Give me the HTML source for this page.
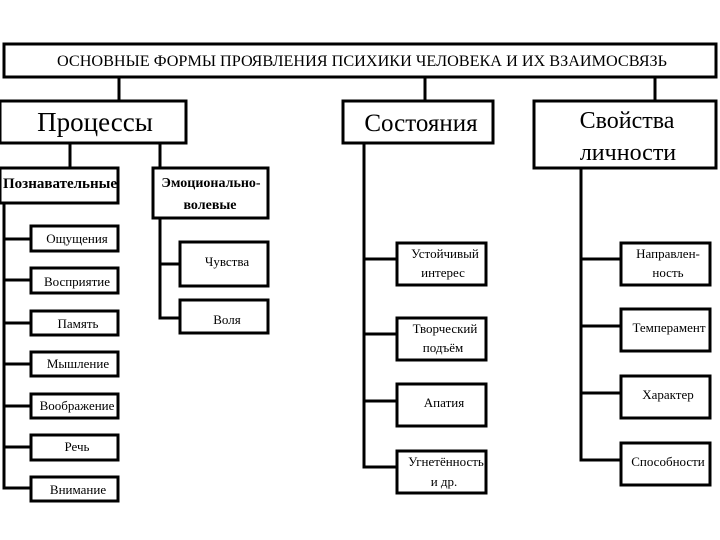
<!DOCTYPE html>
<html><head><meta charset="utf-8"><style>
html,body{margin:0;padding:0;background:#fff}
svg{display:block}
text{font-family:"Liberation Serif","DejaVu Serif",serif;fill:#000}
</style></head><body>
<svg width="720" height="540" viewBox="0 0 720 540" xmlns="http://www.w3.org/2000/svg">
<g fill="none" stroke="#000" stroke-width="3">
<!-- connectors -->
<line x1="119" y1="77" x2="119" y2="101"/>
<line x1="425" y1="77" x2="425" y2="101"/>
<line x1="655" y1="77" x2="655" y2="101"/>
<line x1="70" y1="143" x2="70" y2="168"/>
<line x1="160" y1="143" x2="160" y2="168"/>
<path d="M4 203 V488 H31"/>
<line x1="4" y1="239" x2="31" y2="239"/>
<line x1="4" y1="280" x2="31" y2="280"/>
<line x1="4" y1="323" x2="31" y2="323"/>
<line x1="4" y1="364" x2="31" y2="364"/>
<line x1="4" y1="406" x2="31" y2="406"/>
<line x1="4" y1="447" x2="31" y2="447"/>
<path d="M160 218 V318 H180"/>
<line x1="160" y1="264" x2="180" y2="264"/>
<path d="M364 143 V467 H397"/>
<line x1="364" y1="259" x2="397" y2="259"/>
<line x1="364" y1="334" x2="397" y2="334"/>
<line x1="364" y1="401" x2="397" y2="401"/>
<path d="M581 168 V460 H621"/>
<line x1="581" y1="259" x2="621" y2="259"/>
<line x1="581" y1="326" x2="621" y2="326"/>
<line x1="581" y1="393" x2="621" y2="393"/>
<!-- boxes -->
<rect x="4" y="44" width="712" height="33"/>
<rect x="0" y="101" width="186" height="42"/>
<rect x="343" y="101" width="150" height="42"/>
<rect x="534" y="101" width="182" height="67"/>
<rect x="0" y="168" width="118" height="35"/>
<rect x="153" y="168" width="115" height="50"/>
<rect x="31" y="226" width="87" height="25"/>
<rect x="31" y="268" width="87" height="25"/>
<rect x="31" y="311" width="87" height="24"/>
<rect x="31" y="352" width="87" height="24"/>
<rect x="31" y="394" width="87" height="24"/>
<rect x="31" y="435" width="87" height="25"/>
<rect x="31" y="477" width="87" height="24"/>
<rect x="180" y="242" width="88" height="44"/>
<rect x="180" y="300" width="88" height="33"/>
<rect x="397" y="243" width="89" height="42"/>
<rect x="397" y="318" width="89" height="42"/>
<rect x="397" y="384" width="89" height="42"/>
<rect x="397" y="451" width="89" height="42"/>
<rect x="621" y="243" width="89" height="42"/>
<rect x="621" y="309" width="89" height="42"/>
<rect x="621" y="376" width="89" height="42"/>
<rect x="621" y="443" width="89" height="42"/>
</g>
<g text-anchor="middle">
<text x="362" y="66" font-size="15.5" textLength="610" lengthAdjust="spacingAndGlyphs">ОСНОВНЫЕ ФОРМЫ ПРОЯВЛЕНИЯ ПСИХИКИ ЧЕЛОВЕКА И ИХ ВЗАИМОСВЯЗЬ</text>
<text x="95" y="131" font-size="27">Процессы</text>
<text x="421" y="131" font-size="25">Состояния</text>
<text x="627" y="128" font-size="24">Свойства</text>
<text x="628" y="160" font-size="24">личности</text>
<text x="60" y="188" font-size="15" font-weight="bold" textLength="114" lengthAdjust="spacingAndGlyphs">Познавательные</text>
<text x="211" y="187" font-size="14" font-weight="bold">Эмоционально-</text>
<text x="210" y="209" font-size="14" font-weight="bold">волевые</text>
<g font-size="13">
<text x="77" y="243">Ощущения</text>
<text x="77" y="286">Восприятие</text>
<text x="78" y="328">Память</text>
<text x="78" y="368">Мышление</text>
<text x="77" y="410">Воображение</text>
<text x="77" y="451">Речь</text>
<text x="78" y="494">Внимание</text>
<text x="227" y="266">Чувства</text>
<text x="227" y="324">Воля</text>
<text x="445" y="258">Устойчивый</text>
<text x="443" y="277">интерес</text>
<text x="445" y="333">Творческий</text>
<text x="443" y="352">подъём</text>
<text x="444" y="407">Апатия</text>
<text x="446" y="466">Угнетённость</text>
<text x="444" y="486">и др.</text>
<text x="668" y="258">Направлен-</text>
<text x="668" y="277">ность</text>
<text x="669" y="332">Темперамент</text>
<text x="668" y="399">Характер</text>
<text x="668" y="466">Способности</text>
</g>
</g>
</svg>
</body></html>
